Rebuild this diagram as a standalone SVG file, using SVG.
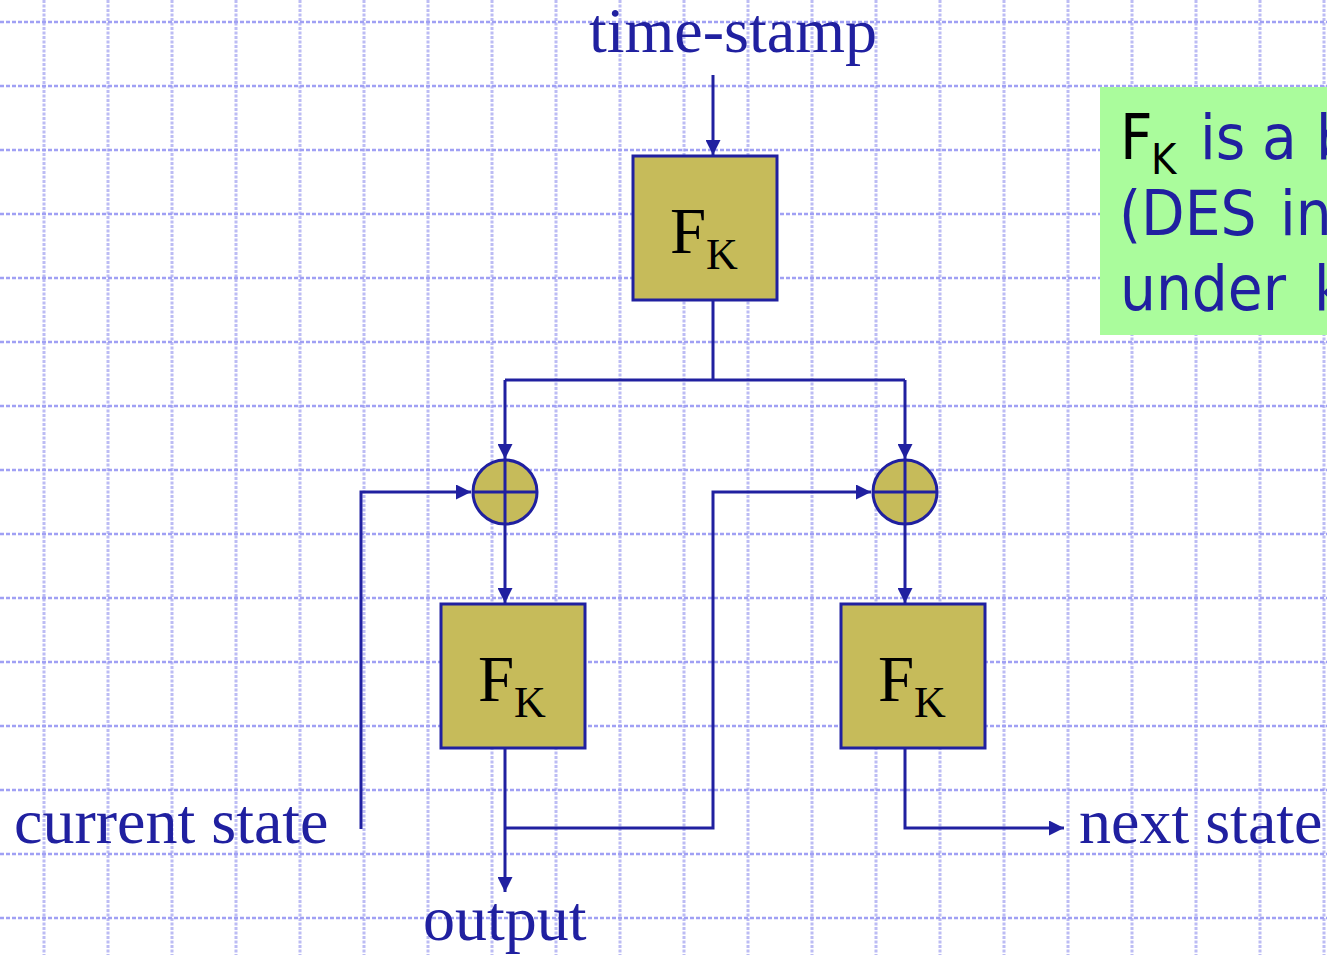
<svg xmlns="http://www.w3.org/2000/svg" width="1327" height="955" viewBox="0 0 1327 955">
<style>
.gh{stroke:#a0a0f4;stroke-width:2.5;stroke-dasharray:4 2;fill:none}
.gv{stroke:#bcbcf4;stroke-width:3;stroke-dasharray:3 1.5;fill:none}
.box{fill:#c6bb5a;stroke:#2020a0;stroke-width:3}
.xor{fill:#c6bb5a;stroke:#2020a0;stroke-width:3}
.ln{fill:none;stroke:#2020a0;stroke-width:3}
.lbl{font-family:"Liberation Serif","Times New Roman",serif;font-size:64px;fill:#2020a0}
.fk{font-family:"Liberation Serif","Times New Roman",serif;fill:#000}
.note{font-family:"DejaVu Sans Condensed","DejaVu Sans",sans-serif;font-size:63px;fill:#2020a0}
</style>
<defs>
<marker id="ah" markerUnits="userSpaceOnUse" markerWidth="16" markerHeight="15" refX="15" refY="7.5" orient="auto">
<path d="M0,0 L15,7.5 L0,15 z" fill="#2020a0"/>
</marker>
</defs>
<rect width="1327" height="955" fill="#fff"/>
<g id="grid">
<path class="gv" d="M44,0V955M108,0V955M172,0V955M236,0V955M300,0V955M364,0V955M428,0V955M492,0V955M556,0V955M620,0V955M684,0V955M748,0V955M812,0V955M876,0V955M940,0V955M1004,0V955M1068,0V955M1132,0V955M1196,0V955M1260,0V955M1324,0V955"/>
<path class="gh" d="M0,22H1327M0,86H1327M0,150H1327M0,214H1327M0,278H1327M0,342H1327M0,406H1327M0,470H1327M0,534H1327M0,598H1327M0,662H1327M0,726H1327M0,790H1327M0,854H1327M0,918H1327"/>
</g>
<g id="note">
<rect x="1100" y="87" width="230" height="248" fill="#aafc9c"/>
<text class="note" y="159"><tspan x="1120" fill="#000">F</tspan><tspan x="1151" y="174" font-size="43" fill="#000">K</tspan><tspan x="1200" y="159">is </tspan><tspan x="1262">a </tspan><tspan x="1316">b</tspan></text>
<text class="note" y="235"><tspan x="1119">(DES </tspan><tspan x="1280">in</tspan></text>
<text class="note" y="310"><tspan x="1120">under </tspan><tspan x="1314">k</tspan></text>
</g>
<g id="connectors">
<path class="ln" d="M713,75V155" marker-end="url(#ah)"/>
<path class="ln" d="M713,300V380M505,380H905"/>
<path class="ln" d="M505,380V459" marker-end="url(#ah)"/>
<path class="ln" d="M905,380V459" marker-end="url(#ah)"/>
<path class="ln" d="M505,524V603" marker-end="url(#ah)"/>
<path class="ln" d="M905,524V603" marker-end="url(#ah)"/>
<path class="ln" d="M361,829V492H471" marker-end="url(#ah)"/>
<path class="ln" d="M505,748V892" marker-end="url(#ah)"/>
<path class="ln" d="M505,828H713V492H871" marker-end="url(#ah)"/>
<path class="ln" d="M905,748V828H1064" marker-end="url(#ah)"/>
</g>
<g id="fk-top">
<rect class="box" x="633" y="156" width="144" height="144"/>
<text class="fk" x="670" y="253" font-size="65">F</text>
<text class="fk" x="706" y="269" font-size="44">K</text>
</g>
<g id="fk-left">
<rect class="box" x="441" y="604" width="144" height="144"/>
<text class="fk" x="478" y="701" font-size="65">F</text>
<text class="fk" x="514" y="717" font-size="44">K</text>
</g>
<g id="fk-right">
<rect class="box" x="841" y="604" width="144" height="144"/>
<text class="fk" x="878" y="701" font-size="65">F</text>
<text class="fk" x="914" y="717" font-size="44">K</text>
</g>
<g id="xor-left">
<circle class="xor" cx="505" cy="492" r="32"/>
<path class="ln" d="M473,492H537M505,460V524"/>
</g>
<g id="xor-right">
<circle class="xor" cx="905" cy="492" r="32"/>
<path class="ln" d="M873,492H937M905,460V524"/>
</g>
<g id="labels">
<text class="lbl" x="589" y="52">time-stamp</text>
<text class="lbl" x="14" y="843">current state</text>
<text class="lbl" x="423" y="940">output</text>
<text class="lbl" x="1079" y="843">next state</text>
</g>
</svg>
